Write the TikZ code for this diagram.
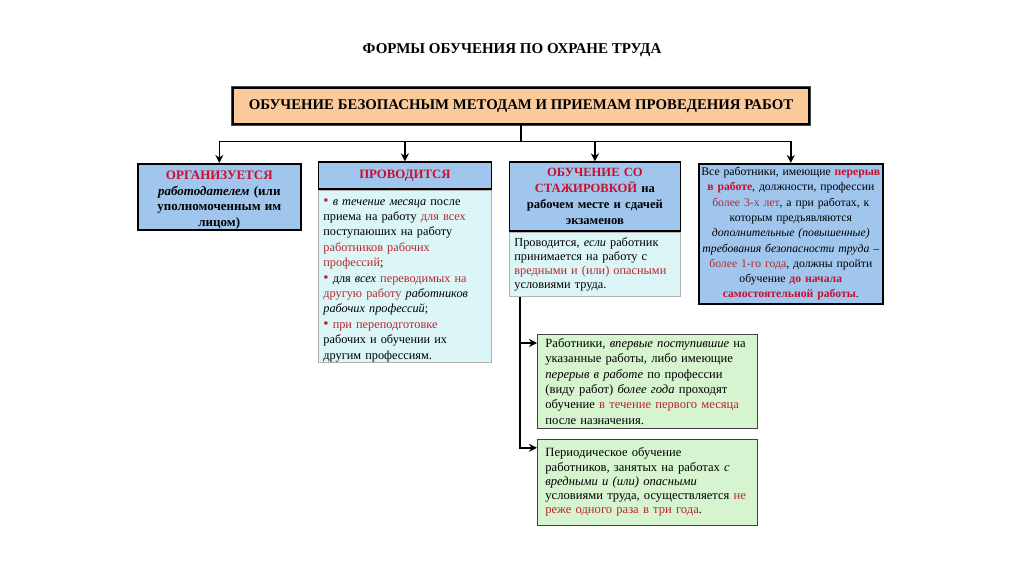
\documentclass[tikz,border=0pt]{standalone}
\usepackage{fontspec}
\setmainfont{Liberation Serif}
\usetikzlibrary{positioning, calc, arrows.meta}

\definecolor{hdrblue}{HTML}{A0C6EE}
\definecolor{bodycyan}{HTML}{DCF5F7}
\definecolor{notegreen}{HTML}{D6F4CF}
\definecolor{peach}{HTML}{FBCA9A}
\definecolor{hdrred}{HTML}{C8102E}
\definecolor{txtred}{HTML}{B8282C}

\newcommand\redtxt[1]{\textcolor{txtred}{#1}}
\newcommand\redbf[1]{\textcolor{hdrred}{\bfseries #1}}
\newcommand\rbul{{\color{txtred}\fontsize{15}{15}\selectfont\textbullet}~}

\begin{document}
\begin{tikzpicture}[x=1pt, y=-1pt,
  every node/.style={font=\fontsize{12.3}{15.2}\selectfont},
  hdrbox/.style={draw=black, line width=1.6pt, fill=hdrblue, align=center, inner xsep=3pt, inner ysep=1pt, font=\fontsize{12.8}{16}\selectfont\bfseries},
  bodybox/.style={draw=gray!60, line width=0.8pt, fill=bodycyan, align=left, inner xsep=5pt, inner ysep=1pt},
  notebox/.style={draw=gray!50!black, line width=0.8pt, fill=notegreen, align=left, inner xsep=8pt, inner ysep=1pt, font=\fontsize{12.6}{15.4}\selectfont},
  link/.style={line width=1.4pt, -{Stealth[length=8pt,width=8pt,inset=2.5pt]}}]
  \useasboundingbox[fill=white] (0,0) rectangle (1024,574);

  \node[font=\fontsize{15}{17}\selectfont\bfseries] (title) at (512,50) {ФОРМЫ ОБУЧЕНИЯ ПО ОХРАНЕ ТРУДА};
  \node[draw=black, line width=2.6pt, fill=peach, preaction={draw=gray!55!black, line width=4.8pt},
        minimum width=576, minimum height=36, font=\fontsize{14.8}{16}\selectfont\bfseries] (top) at (521,106)
    {ОБУЧЕНИЕ БЕЗОПАСНЫМ МЕТОДАМ И ПРИЕМАМ ПРОВЕДЕНИЯ РАБОТ};

  \node[hdrbox, anchor=north west, text width=157, inner ysep=0pt, minimum height=66, font=\fontsize{13}{15.8}\selectfont\bfseries] (org) at (137,163)
    {\rule{0pt}{15pt}{\color{hdrred}ОРГАНИЗУЕТСЯ}\\ \textit{работодателем} (или\\ уполномоченным им\\ лицом)};

  \node[bodybox, anchor=north west, text width=163, inner ysep=0pt, minimum height=172, font=\fontsize{12.3}{15.4}\selectfont] (conbody) at (318,190)
    {\rule{0pt}{14pt}\rbul\textit{в течение месяца} после\\ приема на работу \redtxt{для всех}\\ поступаюших на работу\\ \redtxt{работников рабочих}\\ \redtxt{профессий};\\
     \rbul для \textit{всех} \redtxt{переводимых на}\\ \redtxt{другую работу} \textit{работников}\\ \textit{рабочих профессий};\\
     \rbul\redtxt{при переподготовке}\\ рабочих и обучении их\\ другим профессиям.};
  \node[hdrbox, above=0pt of conbody, text width=167, minimum height=27] (con)
    {\color{hdrred}ПРОВОДИТСЯ};

  \node[bodybox, anchor=north west, text width=161, minimum height=64, font=\fontsize{12.3}{14.2}\selectfont] (stbody) at (509,232)
    {Проводится, \textit{если} работник\\ принимается на работу с\\ \redtxt{вредными и (или) опасными}\\ условиями труда.};
  \node[hdrbox, above=0pt of stbody, text width=165, minimum height=69, font=\fontsize{12.6}{16}\selectfont\bfseries] (st)
    {\redbf{ОБУЧЕНИЕ СО}\\ \redbf{СТАЖИРОВКОЙ} на\\ рабочем месте и сдачей\\ экзаменов};

  \node[hdrbox, anchor=north west, text width=180, inner xsep=2pt, inner ysep=0pt, minimum height=140, font=\fontsize{11.7}{15.3}\selectfont] (all) at (698,163)
    {Все работники, имеющие \redbf{перерыв}\\ \redbf{в работе}, должности, профессии\\ \redtxt{более 3-х лет}, а при работах, к\\ которым предъявляются\\ \textit{дополнительные (повышенные)}\\ \textit{требования безопасности труда –}\\ \redtxt{более 1-го года}, должны пройти\\ обучение \redbf{до начала}\\ \redbf{самостоятельной работы}.};

  \node[notebox, anchor=north west, text width=204, minimum height=94] (first) at (537,334)
    {Работники, \textit{впервые поступившие} на\\ указанные работы, либо имеющие\\ \textit{перерыв в работе} по профессии\\ (виду работ) \textit{более года} проходят\\ обучение \redtxt{в течение первого месяца}\\ после назначения.};
  \node[notebox, below=10pt of first, text width=204, minimum height=86, font=\fontsize{12.6}{14.3}\selectfont] (period)
    {Периодическое обучение\\ работников, занятых на работах \textit{с}\\ \textit{вредными и (или) опасными}\\ условиями труда, осуществляется \redtxt{не}\\ \redtxt{реже одного раза в три года}.};

  \draw[line width=1.4pt] (top.south) -- ++(0,16) coordinate (fork);
  \foreach \b in {org, con, st, all}
    \draw[link] (fork) -| (\b.north);

  \coordinate (trunk) at ($(stbody.south west)+(11,0)$);
  \draw[link] (trunk) |- ($(first.north west)+(0,9)$);
  \draw[link] (trunk) |- ($(period.north west)+(0,9)$);
\end{tikzpicture}
\end{document}
